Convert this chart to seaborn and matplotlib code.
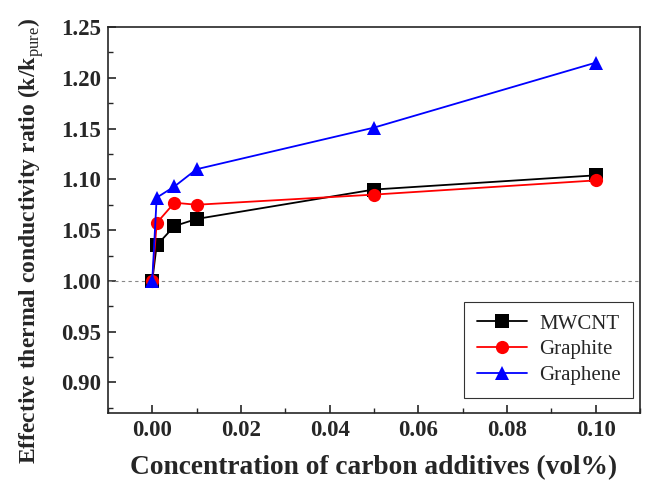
import matplotlib
matplotlib.use("Agg")
import matplotlib.pyplot as plt
import seaborn as sns
import pandas as pd
from matplotlib.ticker import MultipleLocator

# concentration (vol%)
conc = [0.0, 0.001, 0.005, 0.01, 0.05, 0.1]
mwcnt = [1.000, 1.035, 1.054, 1.061, 1.090, 1.104]
graphite = [1.000, 1.057, 1.077, 1.075, 1.085, 1.099]
graphene = [1.000, 1.082, 1.093, 1.110, 1.151, 1.215]

series = ["MWCNT", "Graphite", "Graphene"]
colors = ["black", "red", "blue"]
markers = ["s", "o", "^"]

df = pd.concat([
    pd.DataFrame({"conc": conc, "ratio": mwcnt, "additive": "MWCNT"}),
    pd.DataFrame({"conc": conc, "ratio": graphite, "additive": "Graphite"}),
    pd.DataFrame({"conc": conc, "ratio": graphene, "additive": "Graphene"}),
])

sns.set_style("ticks")
plt.rcParams["font.family"] = ["Liberation Serif", "DejaVu Serif"]
plt.rcParams["mathtext.fontset"] = "custom"
plt.rcParams["mathtext.rm"] = "Liberation Serif"
plt.rcParams["mathtext.bf"] = "Liberation Serif:bold"

fig = plt.figure(figsize=(6.46, 4.84), dpi=100)
ax = fig.add_axes([0.167, 0.147, 0.824, 0.797])

ax.axhline(1.0, color="#888888", ls="--", lw=0.8, dashes=(3, 3), zorder=1)

sns.lineplot(data=df, x="conc", y="ratio", hue="additive", style="additive",
             hue_order=series, style_order=series, palette=colors,
             markers=markers, dashes=False, markersize=9.5, markeredgewidth=0,
             linewidth=1.3, ax=ax, zorder=3)

ax.set_xticks([0.0, 0.02, 0.04, 0.06, 0.08, 0.10])
ax.set_xticklabels(["0.00", "0.02", "0.04", "0.06", "0.08", "0.10"])
ax.xaxis.set_minor_locator(MultipleLocator(0.01))
ax.yaxis.set_major_locator(MultipleLocator(0.05))
ax.yaxis.set_minor_locator(MultipleLocator(0.025))
ax.set_xlim(-0.01, 0.11)
ax.set_ylim(0.87, 1.25)

ax.tick_params(which="major", direction="in", length=6, width=1.2,
               labelsize=16.5, top=False, right=False, pad=5)
ax.tick_params(which="minor", direction="in", length=3.5, width=1.0,
               top=False, right=False)
for lab in ax.get_xticklabels() + ax.get_yticklabels():
    lab.set_fontweight("bold")
for sp in ax.spines.values():
    sp.set_visible(True)
    sp.set_linewidth(1.2)

ax.set_xlabel("Concentration of carbon additives (vol%)", fontsize=19.7,
              fontweight="bold", labelpad=10)
ax.set_ylabel(r"Effective thermal conductivity ratio (k/k$_{\mathrm{pure}}$)",
              fontsize=17, fontweight="bold")
ax.yaxis.set_label_coords(-0.116, 0.446)

leg = ax.legend(loc="lower right", bbox_to_anchor=(0.987, 0.039), fontsize=15,
                frameon=True, fancybox=False, edgecolor="black",
                handlelength=2.4, handletextpad=0.6, borderpad=0.6,
                labelspacing=0.3, borderaxespad=0)
leg.get_frame().set_linewidth(0.8)
for h in leg.legend_handles:
    h.set_markersize(9.5)

fig.savefig("out.png", dpi=100)
